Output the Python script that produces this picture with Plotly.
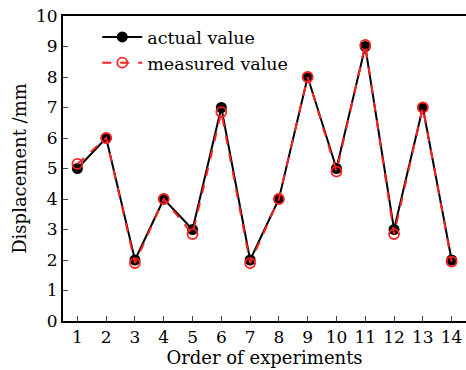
import plotly.graph_objects as go

order = list(range(1, 15))
actual = [5, 6, 2, 4, 3, 7, 2, 4, 8, 5, 9, 3, 7, 2]
measured = [5.15, 6.0, 1.9, 4.0, 2.85, 6.85, 1.9, 4.0, 8.0, 4.9, 9.05, 2.85, 7.0, 1.95]
x_ticks = list(range(1, 15))
y_ticks = list(range(0, 11))

FONT = "DejaVu Serif"

fig = go.Figure()
fig.add_trace(go.Scatter(
    x=order, y=actual, name="actual value", mode="lines+markers",
    line=dict(color="black", width=2),
    marker=dict(symbol="circle", size=11, color="black"),
))
fig.add_trace(go.Scatter(
    x=order, y=measured, name="measured value", mode="lines+markers",
    line=dict(color="#ff2020", width=2, dash="dash"),
    marker=dict(symbol="circle-open", size=10, color="#ff2020", line=dict(width=1.8)),
))

fig.update_layout(
    width=466, height=370,
    margin=dict(l=63, r=0, t=16, b=49),
    paper_bgcolor="white", plot_bgcolor="white",
    font=dict(family=FONT, size=18, color="black"),
    showlegend=True,
    legend=dict(x=0.085, y=0.99, xanchor="left", yanchor="top",
                bgcolor="rgba(0,0,0,0)", font=dict(family=FONT, size=17.5),
                itemwidth=40, tracegroupgap=0),
    xaxis=dict(range=[0.5, 14.5], tickvals=x_ticks, ticks="inside", ticklen=5,
               showgrid=False, zeroline=False, showline=True, linecolor="black",
               linewidth=2, mirror=True, automargin=False,
               ticklabeloverflow="allow",
               tickfont=dict(family=FONT, size=17),
               title=dict(text="Order of experiments", standoff=0,
                          font=dict(family=FONT, size=18))),
    yaxis=dict(range=[0, 10], tickvals=y_ticks, ticks="inside", ticklen=5,
               showgrid=False, zeroline=False, showline=True, linecolor="black",
               linewidth=2, mirror=True, automargin=False,
               ticklabeloverflow="allow",
               tickfont=dict(family=FONT, size=17),
               title=dict(text="Displacement /mm", standoff=5,
                          font=dict(family=FONT, size=18))),
)

fig.write_html("out.html", config={"displayModeBar": False},
               post_script="document.body.style.margin='0';")
